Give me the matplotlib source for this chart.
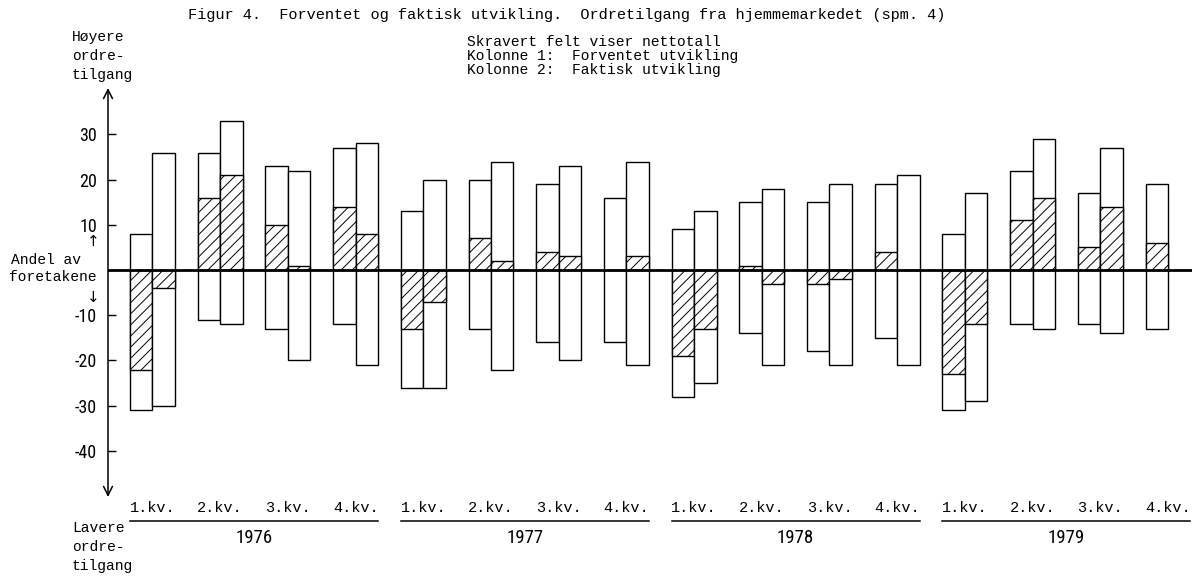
import numpy as np
import matplotlib.pyplot as plt

plt.rcParams['axes.unicode_minus'] = False
plt.rcParams['hatch.linewidth'] = 0.7

# Figur 4 - forventet (kolonne 1) og faktisk (kolonne 2) utvikling, andel av foretakene
years = ['1976', '1977', '1978', '1979']
quarters = ['1.kv.', '2.kv.', '3.kv.', '4.kv.']

exp_up = np.array([8, 26, 23, 27, 13, 20, 19, 16, 9, 15, 15, 19, 8, 22, 17, 19], dtype=float)
exp_down = np.array([31, 11, 13, 12, 26, 13, 16, 16, 28, 14, 18, 15, 31, 12, 12, 13], dtype=float)
exp_net = np.array([-22, 16, 10, 14, -13, 7, 4, 0, -19, 1, -3, 4, -23, 11, 5, 6], dtype=float)

act_up = np.array([26, 33, 22, 28, 20, 24, 23, 24, 13, 18, 19, 21, 17, 29, 27, np.nan])
act_down = np.array([30, 12, 20, 21, 26, 22, 20, 21, 25, 21, 21, 21, 29, 13, 14, np.nan])
act_net = np.array([-4, 21, 1, 8, -7, 2, 3, 3, -13, -3, -2, 0, -12, 16, 14, np.nan])

yticks = [30, 20, 10, -10, -20, -30, -40]

MONO = ['Liberation Mono', 'DejaVu Sans Mono']
NARROW = ['Liberation Sans Narrow', 'Roboto Condensed', 'Liberation Sans']

fig = plt.figure(figsize=(12, 5.8), dpi=100)
ax = fig.add_axes([0.09, 0.1431, 0.9033, 0.7052])
ax.set_xlim(-0.657, 15.354)
ax.set_ylim(-50.2, 40.27)

x = np.arange(len(exp_up))
w = 0.332

for pos, up, down, net in [(x - w / 2, exp_up, exp_down, exp_net),
                           (x + w / 2, act_up, act_down, act_net)]:
    ok = ~np.isnan(up)
    ax.bar(pos[ok], (up + down)[ok], bottom=-down[ok], width=w,
           color='white', edgecolor='black', linewidth=1.0, zorder=2)
    ax.bar(pos[ok], net[ok], width=w, color='white', edgecolor='black',
           hatch='///', linewidth=1.0, zorder=2)

ax.axhline(0, color='black', linewidth=2.0, zorder=3)

# y axis with arrows at both ends
for s in ax.spines.values():
    s.set_visible(False)
ax.annotate('', xy=(0, 1), xytext=(0, 0), xycoords='axes fraction',
            arrowprops=dict(arrowstyle='<->', lw=1.1, color='black',
                            shrinkA=0, shrinkB=0, mutation_scale=16))
ax.set_xticks([])
ax.set_yticks(yticks)
ax.tick_params(axis='y', direction='in', length=6, width=1.0, pad=8)
for lab in ax.get_yticklabels():
    lab.set_family(NARROW)
    lab.set_fontsize(13)

# quarter labels, year underlines and year labels
xt = ax.get_xaxis_transform()
for i, q in enumerate(np.tile(quarters, len(years))):
    ax.text(x[i], -0.027, q, transform=xt, ha='center', va='center',
            family=MONO, fontsize=11, clip_on=False)
for k, yr in enumerate(years):
    x0 = x[4 * k] - w
    x1 = x[4 * k + 3] + w
    ax.plot([x0, x1], [-0.059, -0.059], transform=xt, color='black',
            lw=1.1, clip_on=False)
    ax.text((x0 + x1) / 2, -0.101, yr, transform=xt, ha='center', va='center',
            family=NARROW, fontsize=13.5, clip_on=False)

H = 580.0


def fy(px):
    return 1 - px / H


fig.text(188 / 1200, fy(15),
         'Figur 4.  Forventet og faktisk utvikling.  Ordretilgang fra hjemmemarkedet (spm. 4)',
         family=MONO, fontsize=11, va='center', ha='left')
for txt, yy in [('Skravert felt viser nettotall', 42),
                ('Kolonne 1:  Forventet utvikling', 56),
                ('Kolonne 2:  Faktisk utvikling', 70)]:
    fig.text(467 / 1200, fy(yy), txt, family=MONO, fontsize=10.5, va='center', ha='left')

for txt, yy in [('Høyere', 37), ('ordre-', 56), ('tilgang', 75),
                ('Lavere', 528), ('ordre-', 547), ('tilgang', 566)]:
    fig.text(72 / 1200, fy(yy), txt, family=MONO, fontsize=10.5, va='center', ha='left')

fig.text(11 / 1200, fy(260), 'Andel av', family=MONO, fontsize=10.5, va='center', ha='left')
fig.text(9 / 1200, fy(277), 'foretakene', family=MONO, fontsize=10.5, va='center', ha='left')
fig.text(93 / 1200, fy(241), '↑', family='DejaVu Sans', fontsize=11, va='center', ha='center')
fig.text(93 / 1200, fy(297), '↓', family='DejaVu Sans', fontsize=11, va='center', ha='center')

fig.savefig('out.png', dpi=100, facecolor='white')
